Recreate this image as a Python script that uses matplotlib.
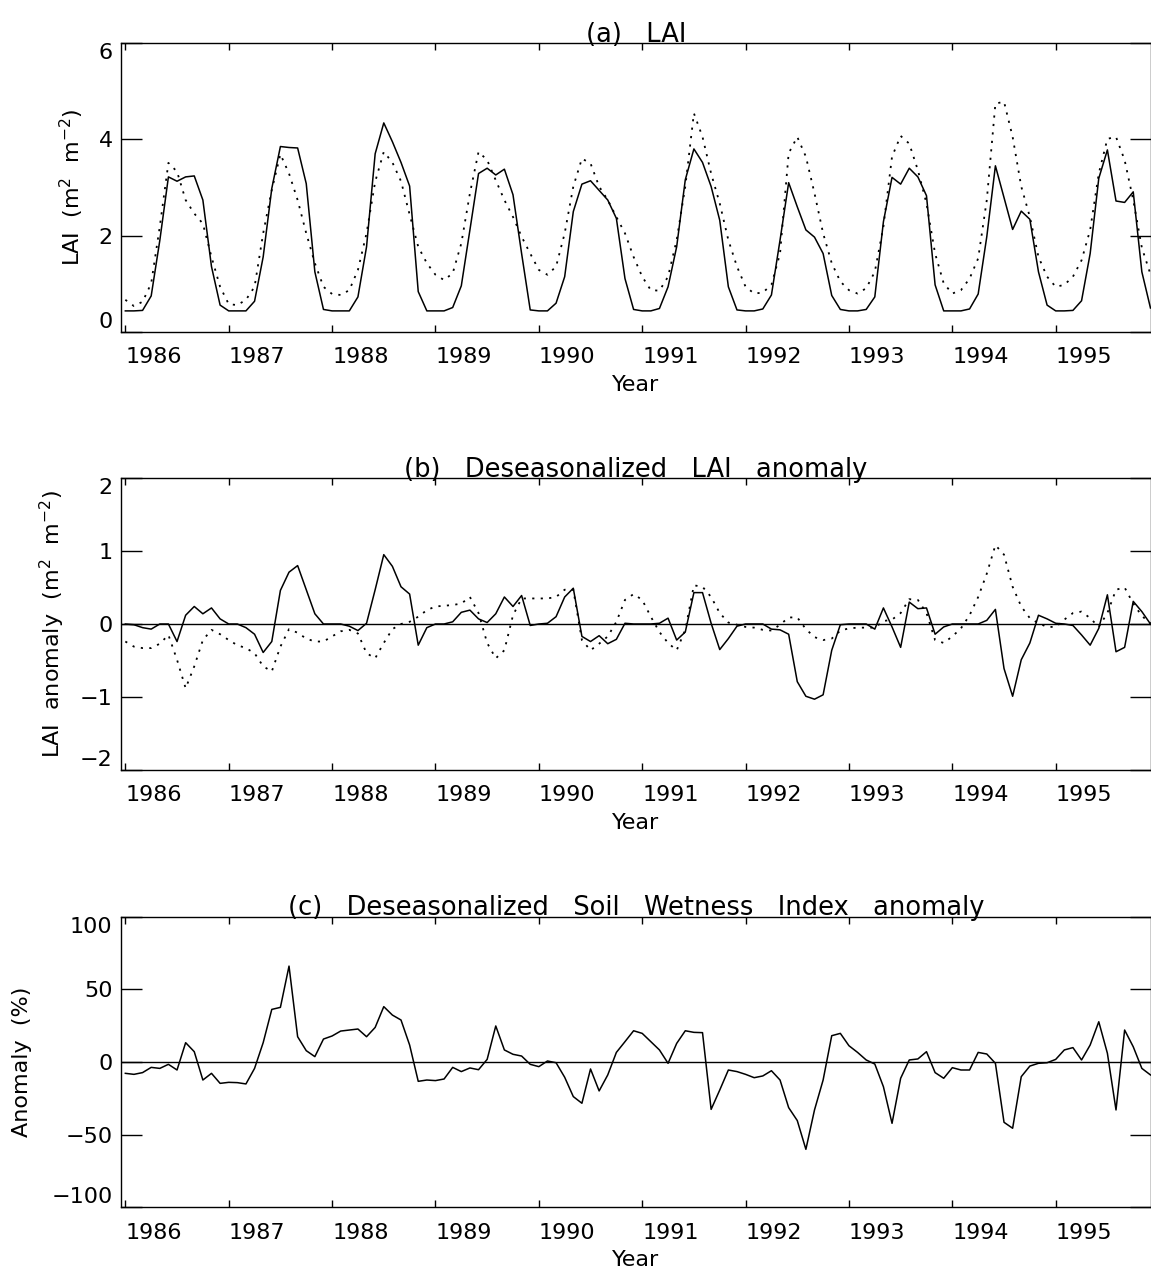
import numpy as np
import matplotlib
matplotlib.use('Agg')
import matplotlib.pyplot as plt

# Monthly values, Jan 1986 - Dec 1995
years = [1986, 1987, 1988, 1989, 1990, 1991, 1992, 1993, 1994, 1995]
months = np.arange(120)
time = 1986 + months / 12.0

# (a) LAI, solid and dotted
lai_solid = [
    0.44, 0.44, 0.45, 0.75, 1.90, 3.22, 3.13, 3.22, 3.24, 2.74, 1.36, 0.56,
    0.44, 0.44, 0.44, 0.64, 1.56, 2.98, 3.85, 3.83, 3.82, 3.08, 1.25, 0.47,
    0.44, 0.44, 0.44, 0.73, 1.77, 3.70, 4.34, 3.95, 3.52, 3.03, 0.84, 0.44,
    0.44, 0.44, 0.51, 0.96, 2.12, 3.29, 3.40, 3.26, 3.38, 2.85, 1.63, 0.46,
    0.44, 0.44, 0.60, 1.15, 2.50, 3.07, 3.14, 2.94, 2.74, 2.36, 1.11, 0.47,
    0.44, 0.44, 0.49, 0.94, 1.77, 3.16, 3.80, 3.52, 3.02, 2.32, 0.94, 0.46,
    0.44, 0.44, 0.48, 0.77, 1.91, 3.10, 2.60, 2.12, 1.97, 1.63, 0.76, 0.47,
    0.44, 0.44, 0.47, 0.73, 2.29, 3.21, 3.07, 3.40, 3.22, 2.83, 0.98, 0.44,
    0.44, 0.44, 0.48, 0.79, 1.98, 3.45, 2.79, 2.13, 2.51, 2.34, 1.25, 0.56,
    0.44, 0.44, 0.45, 0.65, 1.63, 3.19, 3.78, 2.72, 2.69, 2.91, 1.25, 0.50,
]
lai_dotted = [
    0.67, 0.54, 0.63, 1.01, 2.19, 3.51, 3.33, 2.74, 2.46, 2.25, 1.56, 0.94,
    0.58, 0.56, 0.67, 0.94, 2.05, 2.95, 3.69, 3.29, 2.74, 2.05, 1.43, 0.94,
    0.79, 0.77, 0.87, 1.29, 2.05, 3.12, 3.74, 3.52, 3.13, 2.44, 1.77, 1.43,
    1.19, 1.08, 1.22, 1.84, 2.88, 3.74, 3.57, 3.15, 2.74, 2.39, 1.98, 1.63,
    1.29, 1.19, 1.36, 2.05, 3.02, 3.60, 3.50, 3.02, 2.74, 2.39, 2.05, 1.56,
    1.15, 0.87, 0.86, 1.15, 1.91, 3.02, 4.54, 4.05, 3.29, 2.67, 1.91, 1.36,
    0.94, 0.80, 0.82, 0.98, 1.63, 3.71, 4.05, 3.64, 2.88, 2.05, 1.43, 1.05,
    0.87, 0.80, 0.91, 1.25, 2.19, 3.64, 4.07, 3.91, 3.36, 2.67, 1.63, 1.01,
    0.80, 0.87, 1.11, 1.53, 2.74, 4.74, 4.78, 4.05, 3.02, 2.39, 1.56, 1.15,
    0.94, 0.98, 1.15, 1.49, 2.12, 3.29, 4.01, 4.05, 3.57, 2.74, 1.75, 1.20,
]

# (b) deseasonalized LAI anomaly
anom_solid = [
    0.00, -0.01, -0.05, -0.07, 0.00, 0.00, -0.24, 0.12, 0.24, 0.14, 0.22, 0.07,
    0.00, 0.00, -0.05, -0.14, -0.39, -0.24, 0.46, 0.71, 0.80, 0.47, 0.14, 0.00,
    0.00, 0.00, -0.03, -0.09, 0.01, 0.47, 0.95, 0.79, 0.51, 0.41, -0.29, -0.05,
    0.00, 0.00, 0.03, 0.16, 0.19, 0.07, 0.02, 0.14, 0.37, 0.24, 0.39, -0.02,
    0.00, 0.01, 0.10, 0.37, 0.49, -0.17, -0.24, -0.16, -0.27, -0.21, 0.01, 0.00,
    0.00, 0.00, 0.01, 0.08, -0.22, -0.11, 0.43, 0.43, 0.01, -0.35, -0.20, -0.03,
    0.00, 0.00, 0.00, -0.07, -0.08, -0.14, -0.79, -0.99, -1.03, -0.97, -0.36, -0.01,
    0.00, 0.00, 0.00, -0.07, 0.22, -0.04, -0.32, 0.30, 0.21, 0.22, -0.14, -0.04,
    0.00, 0.00, 0.00, 0.00, 0.05, 0.20, -0.61, -0.99, -0.49, -0.26, 0.12, 0.07,
    0.01, 0.00, -0.02, -0.15, -0.29, -0.06, 0.40, -0.38, -0.32, 0.31, 0.17, 0.00,
]
anom_dotted = [
    -0.24, -0.31, -0.33, -0.33, -0.27, -0.15, -0.49, -0.88, -0.58, -0.22, -0.08, -0.14,
    -0.22, -0.29, -0.33, -0.40, -0.58, -0.65, -0.31, -0.07, -0.12, -0.20, -0.24, -0.24,
    -0.17, -0.10, -0.08, -0.13, -0.40, -0.47, -0.26, -0.07, 0.00, 0.03, 0.10, 0.19,
    0.24, 0.25, 0.26, 0.28, 0.37, 0.15, -0.26, -0.47, -0.36, 0.12, 0.35, 0.35,
    0.35, 0.35, 0.37, 0.47, 0.47, -0.22, -0.36, -0.27, -0.17, 0.03, 0.33, 0.41,
    0.33, 0.10, -0.11, -0.26, -0.36, -0.08, 0.53, 0.51, 0.37, 0.15, 0.02, -0.01,
    -0.04, -0.05, -0.08, -0.09, -0.01, 0.09, 0.09, -0.07, -0.18, -0.22, -0.20, -0.09,
    -0.06, -0.05, -0.05, -0.05, 0.04, 0.06, 0.15, 0.34, 0.33, 0.15, -0.22, -0.26,
    -0.17, -0.06, 0.12, 0.37, 0.69, 1.08, 0.95, 0.51, 0.24, 0.08, 0.01, -0.04,
    -0.04, 0.06, 0.15, 0.17, 0.08, -0.04, 0.15, 0.47, 0.50, 0.28, 0.11, 0.01,
]

# (c) deseasonalized soil wetness index anomaly (%)
swi_anom = [
    -7.8, -8.5, -7.3, -3.7, -4.4, -1.6, -5.5, 13.3, 7.1, -12.4, -7.8, -14.7,
    -14.0, -14.2, -15.1, -4.4, 13.3, 36.2, 37.6, 66.0, 17.4, 7.8, 3.7, 15.8,
    17.9, 21.3, 22.0, 22.7, 17.4, 23.8, 38.1, 32.3, 28.9, 11.7, -13.3, -12.4,
    -12.8, -11.7, -3.7, -6.6, -4.1, -5.3, 1.8, 24.8, 8.3, 5.3, 4.1, -1.6,
    -3.2, 0.7, -0.5, -10.5, -23.8, -28.4, -4.8, -19.9, -8.9, 6.6, 14.0, 21.5,
    19.7, 14.0, 8.3, -0.9, 12.8, 21.5, 20.4, 20.2, -32.6, -19.3, -5.5, -6.6,
    -8.5, -10.8, -9.6, -6.0, -12.4, -31.4, -40.3, -60.1, -33.0, -12.4, 18.1, 19.7,
    11.2, 6.6, 1.4, -1.4, -17.0, -42.2, -11.2, 1.4, 2.1, 7.1, -7.3, -11.2,
    -3.9, -5.5, -5.5, 6.6, 5.5, -0.9, -41.5, -45.6, -10.1, -2.8, -0.9, -0.5,
    1.8, 8.3, 9.9, 1.4, 11.7, 27.7, 6.0, -33.0, 22.0, 10.5, -4.4, -8.9,
]

plt.rcParams['font.family'] = 'DejaVu Sans'
plt.rcParams['font.size'] = 16

W, H = 1151, 1271
fig = plt.figure(figsize=(W / 100, H / 100), dpi=100)

left = 121 / W
width = (1150.5 - 121) / W


def make_axes(top_px, bot_px):
    return fig.add_axes([left, 1 - bot_px / H, width, (bot_px - top_px) / H])


def style(ax, yticks, ylim, title, ylabel, ylab_x, height_px):
    ax.set_xlim(1985.958, 1995.917)
    ax.set_ylim(*ylim)
    ax.set_yticks(yticks)
    ax.set_xticks(years)
    ax.set_xticklabels([str(y) for y in years], ha='left')
    ax.tick_params(axis='y', direction='in', length=15, width=1, left=True, right=True, pad=6, labelsize=16)
    ax.tick_params(axis='x', direction='in', length=5, width=1, top=True, bottom=True, pad=11, labelsize=16)
    # IDL-style: end labels kept inside the axis range
    ylabels = ax.get_yticklabels()
    ylabels[0].set_va('bottom')
    ylabels[-1].set_va('top')
    for s in ax.spines.values():
        s.set_linewidth(1.0)
    ax.set_title(title, fontsize=18.5, pad=1)
    ax.set_ylabel(ylabel, fontsize=16, va='center')
    ax.yaxis.set_label_coords(ylab_x, 0.5)
    ax.set_xlabel('Year', fontsize=16, va='center')
    ax.xaxis.set_label_coords(0.5, -53 / height_px)


dots = (0, (1.2, 3.5))

# (a)
ax1 = make_axes(42.9, 332.1)
ax1.plot(time, lai_solid, color='k', lw=1.1)
ax1.plot(time, lai_dotted, color='k', lw=1.3, linestyle=dots)
style(ax1, [0, 2, 4, 6], (0, 6), '(a)   LAI', 'LAI  (m$^2$  m$^{-2}$)', -0.0476, 289.2)

# (b)
ax2 = make_axes(478.0, 770.0)
ax2.axhline(0, color='k', lw=1.0)
ax2.plot(time, anom_solid, color='k', lw=1.1)
ax2.plot(time, anom_dotted, color='k', lw=1.3, linestyle=dots)
style(ax2, [-2, -1, 0, 1, 2], (-2, 2), '(b)   Deseasonalized   LAI   anomaly',
      'LAI  anomaly  (m$^2$  m$^{-2}$)', -0.067, 292.0)

# (c)
ax3 = make_axes(916.7, 1207.3)
ax3.axhline(0, color='k', lw=1.0)
ax3.plot(time, swi_anom, color='k', lw=1.1)
style(ax3, [-100, -50, 0, 50, 100], (-100, 100),
      '(c)   Deseasonalized   Soil   Wetness   Index   anomaly', 'Anomaly  (%)', -0.0962, 290.6)

fig.savefig('out.png', dpi=100)
